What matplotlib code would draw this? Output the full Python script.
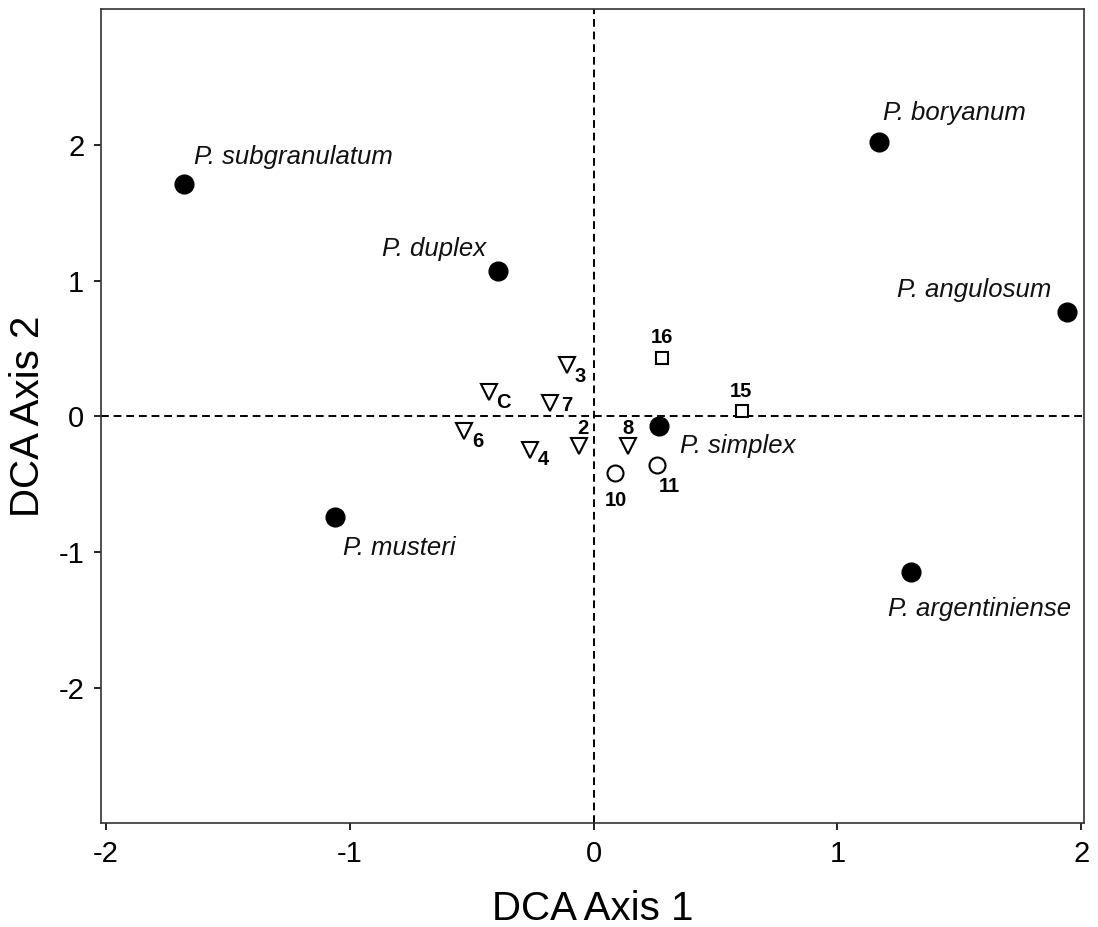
import matplotlib
matplotlib.use("Agg")
import matplotlib.pyplot as plt

plt.rcParams['font.family'] = ['Liberation Sans', 'DejaVu Sans']
plt.rcParams['axes.unicode_minus'] = False

# species scores (filled circles)
species = ["P. subgranulatum", "P. duplex", "P. boryanum", "P. angulosum",
           "P. simplex", "P. musteri", "P. argentiniense"]
species_x = [-1.68, -0.39, 1.17, 1.94, 0.27, -1.06, 1.30]
species_y = [1.71, 1.07, 2.02, 0.77, -0.07, -0.74, -1.15]

# sample scores, grouped by symbol
tri_labels = ["3", "C", "7", "6", "4", "2", "8"]
tri_x = [-0.11, -0.43, -0.18, -0.53, -0.26, -0.06, 0.14]
tri_y = [0.38, 0.18, 0.095, -0.11, -0.25, -0.22, -0.22]

circ_labels = ["10", "11"]
circ_x = [0.086, 0.26]
circ_y = [-0.42, -0.36]

sq_labels = ["15", "16"]
sq_x = [0.61, 0.28]
sq_y = [0.04, 0.43]

x_ticks = [-2, -1, 0, 1, 2]
y_ticks = [-2, -1, 0, 1, 2]

# label offsets in points (dx, dy, ha)
species_off = {
    "P. subgranulatum": (7.2, 14.4, 'left'),
    "P. duplex": (-8.6, 10.8, 'right'),
    "P. boryanum": (2.9, 15.8, 'left'),
    "P. angulosum": (-10.8, 10.8, 'right'),
    "P. simplex": (15.1, -19.4, 'left'),
    "P. musteri": (5.8, -27.4, 'left'),
    "P. argentiniense": (-16.6, -31.7, 'left'),
}
sample_off = {
    "3": (5.8, -12.2, 'left'),
    "C": (5.0, -11.5, 'left'),
    "7": (7.9, -5.8, 'left'),
    "6": (5.8, -11.5, 'left'),
    "4": (5.8, -10.8, 'left'),
    "2": (2.9, 8.6, 'center'),
    "8": (0.0, 8.6, 'center'),
    "10": (0.7, -23.8, 'center'),
    "11": (8.6, -19.4, 'center'),
    "16": (0.0, 10.8, 'center'),
    "15": (-0.7, 10.1, 'center'),
}

fig = plt.figure(figsize=(10.98, 9.27), dpi=100)
ax = fig.add_axes([0.092, 0.112, 0.895, 0.878])

ax.axhline(0, color='black', lw=1.4, dashes=(4, 2.5), zorder=1)
ax.axvline(0, color='black', lw=1.4, dashes=(4, 2.5), zorder=1)

ax.plot(species_x, species_y, 'o', ms=13.5, mfc='black', mec='black', mew=1, ls='none', zorder=3)
ax.plot(tri_x, tri_y, 'v', ms=12, mfc='white', mec='black', mew=1.5, ls='none', zorder=3)
ax.plot(circ_x, circ_y, 'o', ms=11.5, mfc='white', mec='black', mew=1.5, ls='none', zorder=3)
ax.plot(sq_x, sq_y, 's', ms=8.6, mfc='white', mec='black', mew=1.5, ls='none', zorder=3)

for name, x, y in zip(species, species_x, species_y):
    dx, dy, ha = species_off[name]
    ax.annotate(name, (x, y), xytext=(dx, dy), textcoords='offset points',
                ha=ha, va='baseline', fontsize=18.5, style='italic', color='#111111')

for labels, xs, ys in [(tri_labels, tri_x, tri_y), (circ_labels, circ_x, circ_y),
                       (sq_labels, sq_x, sq_y)]:
    for lab, x, y in zip(labels, xs, ys):
        dx, dy, ha = sample_off[lab]
        ax.annotate(lab, (x, y), xytext=(dx, dy), textcoords='offset points',
                    ha=ha, va='baseline', fontsize=14.5, fontweight='bold')

ax.set_xlim(-2.02, 2.01)
ax.set_ylim(-3.0, 3.0)
ax.set_xticks(x_ticks)
ax.set_yticks(y_ticks)
ax.tick_params(direction='out', length=5, width=1.2, labelsize=21, pad=7)
for s in ax.spines.values():
    s.set_linewidth(1.2)
    s.set_color('#333333')

ax.set_xlabel("DCA Axis 1", fontsize=29, labelpad=16)
ax.set_ylabel("DCA Axis 2", fontsize=29, labelpad=8)

fig.savefig("out.png", dpi=100)
